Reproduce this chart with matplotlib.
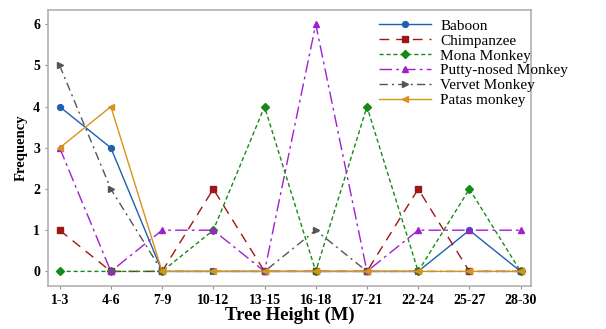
import matplotlib
matplotlib.use("Agg")
import matplotlib.pyplot as plt

height_bins = ["1-3", "4-6", "7-9", "10-12", "13-15", "16-18", "17-21", "22-24", "25-27", "28-30"]

baboon = [4, 3, 0, 0, 0, 0, 0, 0, 1, 0]
chimpanzee = [1, 0, 0, 2, 0, 0, 0, 2, 0, 0]
mona_monkey = [0, 0, 0, 1, 4, 0, 4, 0, 2, 0]
putty_nosed = [3, 0, 1, 1, 0, 6, 0, 1, 1, 1]
vervet = [5, 2, 0, 0, 0, 1, 0, 0, 0, 0]
patas = [3, 4, 0, 0, 0, 0, 0, 0, 0, 0]

plt.rcParams["font.family"] = ["Liberation Serif", "DejaVu Serif"]

series = [
    ("Baboon", baboon, "#1f5fb0", "-", "o"),
    ("Chimpanzee", chimpanzee, "#a01515", (0, (7, 5)), "s"),
    ("Mona Monkey", mona_monkey, "#168a16", (0, (3, 2)), "D"),
    ("Putty-nosed Monkey", putty_nosed, "#a020d0", (0, (9, 3, 2, 3)), "^"),
    ("Vervet Monkey", vervet, "#555555", (0, (6, 3, 1.5, 3)), ">"),
    ("Patas monkey", patas, "#d9921a", "-", "<"),
]

fig = plt.figure(figsize=(6.06, 3.29), dpi=100)
ax = fig.add_axes([0.079, 0.13, 0.797, 0.84])

x = list(range(len(height_bins)))
for name, vals, color, ls, marker in series:
    ax.plot(x, vals, color=color, linestyle=ls, linewidth=1.0, marker=marker,
            markersize=4.2, label=name)

ax.set_xlim(-0.23, 9.2)
ax.set_ylim(-0.36, 6.35)
ax.set_xticks(x)
ax.set_xticklabels(height_bins, fontweight="bold", fontsize=10)
ax.set_yticks(range(7))
ax.set_yticklabels([str(v) for v in range(7)], fontweight="bold", fontsize=10)
ax.tick_params(length=2.5, width=0.8, color="#909090", pad=3)
for spine in ax.spines.values():
    spine.set_color("#b0b0b0")
    spine.set_linewidth(1.2)

ax.set_xlabel("Tree Height (M)", fontweight="bold", fontsize=13.5, labelpad=0)
ax.set_ylabel("Frequency", fontweight="bold", fontsize=10.5, labelpad=4)

ax.legend(loc="upper left", bbox_to_anchor=(379 / 606, 1 - 19 / 329),
          bbox_transform=fig.transFigure, frameon=False, fontsize=11,
          handlelength=3.4, handletextpad=0.6, labelspacing=0.08,
          borderaxespad=0, borderpad=0)

fig.savefig("out.png", dpi=100)
